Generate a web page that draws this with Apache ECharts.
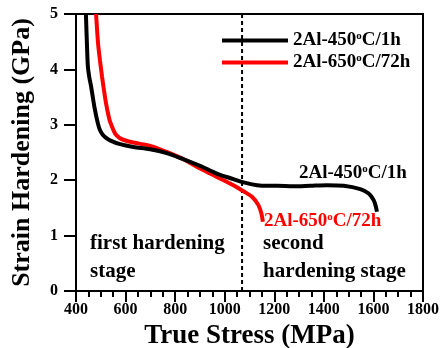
<!DOCTYPE html>
<html>
<head>
<meta charset="utf-8">
<script src="https://cdn.jsdelivr.net/npm/echarts@6/dist/echarts.min.js"></script>
<style>html,body{margin:0;padding:0;background:#fff;}#c{width:440px;height:348px;}</style>
</head>
<body>
<div id="c"></div>
<script>
const seriesNames = ['2Al-450ºC/1h', '2Al-650ºC/72h'];
const xTicks = [400, 600, 800, 1000, 1200, 1400, 1600, 1800];
const yTicks = [0, 1, 2, 3, 4, 5];
const stage1Label = ['first hardening', 'stage'];
const stage2Label = ['second', 'hardening stage'];
const boundaryStress = 1070;

const black450Stress = [440,444,448,454,461,474,488,497,508,520,537,578,631,699,766,833,901,968,1035,1076,1130,1177,1211,1278,1345,1413,1480,1547,1581,1601,1610,1614];
const black450Hard   = [5.0,4.47,4.05,3.85,3.69,3.33,3.03,2.90,2.82,2.77,2.72,2.65,2.60,2.56,2.49,2.38,2.26,2.12,2.02,1.96,1.91,1.90,1.90,1.89,1.90,1.91,1.90,1.84,1.76,1.64,1.52,1.43];
const red650Stress = [481,489,497,505,513,521,535,544,558,574,591,631,699,766,833,901,968,1035,1076,1110,1136,1148,1154];
const red650Hard   = [5.0,4.47,4.15,3.87,3.62,3.39,3.09,2.98,2.84,2.77,2.73,2.68,2.62,2.51,2.38,2.21,2.06,1.91,1.80,1.70,1.55,1.40,1.25];

const FONT = '"Liberation Serif", "Times New Roman", serif';
const zip = (a, b) => a.map((v, i) => [v, b[i]]);
const supFmt = s => s.replace('º', '{sup|o}');
const rich = (size, color) => ({
  sup: { fontSize: Math.round(size * 0.6), fontWeight: 'bold', fontFamily: FONT, color: color, verticalAlign: 'top' }
});

const chart = echarts.init(document.getElementById('c'), null, { renderer: 'canvas' });
chart.setOption({
  animation: false,
  backgroundColor: '#fff',
  grid: { left: 76, right: 17, top: 14, bottom: 57, show: true, borderColor: '#000', borderWidth: 2, containLabel: false, outerBoundsMode: 'none' },
  legend: {
    orient: 'vertical', left: 217, top: 26, itemWidth: 66, itemHeight: 4, itemGap: 3, icon: 'rect',
    data: seriesNames,
    formatter: supFmt,
    textStyle: { fontFamily: FONT, fontWeight: 'bold', fontSize: 19, color: '#000', rich: rich(19, '#000') }
  },
  xAxis: {
    type: 'value', min: xTicks[0], max: xTicks[xTicks.length - 1], interval: 200,
    name: 'True Stress (MPa)', nameLocation: 'middle', nameGap: 28,
    nameTextStyle: { fontFamily: FONT, fontWeight: 'bold', fontSize: 27, color: '#000' },
    axisLine: { show: true, lineStyle: { color: '#000', width: 2 } },
    axisTick: { show: true, inside: false, length: 11, lineStyle: { color: '#000', width: 2 } },
    minorTick: { show: true, splitNumber: 4, length: 6, lineStyle: { color: '#000', width: 2 } },
    axisLabel: { fontFamily: FONT, fontWeight: 'bold', fontSize: 16, color: '#000', margin: 11, formatter: v => String(v) },
    splitLine: { show: false }
  },
  yAxis: {
    type: 'value', min: yTicks[0], max: yTicks[yTicks.length - 1], interval: 1,
    name: 'Strain Hardening (GPa)', nameLocation: 'middle', nameGap: 41, nameRotate: 90,
    nameTextStyle: { fontFamily: FONT, fontWeight: 'bold', fontSize: 26, color: '#000' },
    axisLine: { show: true, lineStyle: { color: '#000', width: 2 } },
    axisTick: { show: true, inside: false, length: 12, lineStyle: { color: '#000', width: 2 } },
    axisLabel: { fontFamily: FONT, fontWeight: 'bold', fontSize: 16, color: '#000', margin: 18, formatter: v => String(v) },
    splitLine: { show: false }
  },
  series: [
    { name: seriesNames[0], type: 'line', data: zip(black450Stress, black450Hard), smooth: 0.3, showSymbol: false,
      lineStyle: { color: '#000', width: 4 }, itemStyle: { color: '#000' }, z: 3 },
    { name: seriesNames[1], type: 'line', data: zip(red650Stress, red650Hard), smooth: 0.3, showSymbol: false,
      lineStyle: { color: '#ff0000', width: 4 }, itemStyle: { color: '#ff0000' }, z: 2 },
    { name: 'boundary', type: 'line', data: [[boundaryStress, yTicks[0]], [boundaryStress, yTicks[yTicks.length - 1]]],
      showSymbol: false, silent: true, lineStyle: { color: '#000', width: 2, type: [4, 3] }, z: 1 }
  ],
  graphic: [
    { type: 'text', left: 299, top: 164, style: { text: supFmt(seriesNames[0]), fill: '#000', font: 'bold 19px ' + FONT, rich: rich(19, '#000') } },
    { type: 'text', left: 264, top: 212, style: { text: supFmt(seriesNames[1]), fill: '#ff0000', font: 'bold 19px ' + FONT, rich: rich(19, '#ff0000') } },
    { type: 'text', left: 90, top: 230, style: { text: stage1Label.join('\n'), fill: '#000', font: 'bold 21px ' + FONT, lineHeight: 28 } },
    { type: 'text', left: 263, top: 230, style: { text: stage2Label.join('\n'), fill: '#000', font: 'bold 21px ' + FONT, lineHeight: 28 } }
  ]
});
</script>
</body>
</html>
